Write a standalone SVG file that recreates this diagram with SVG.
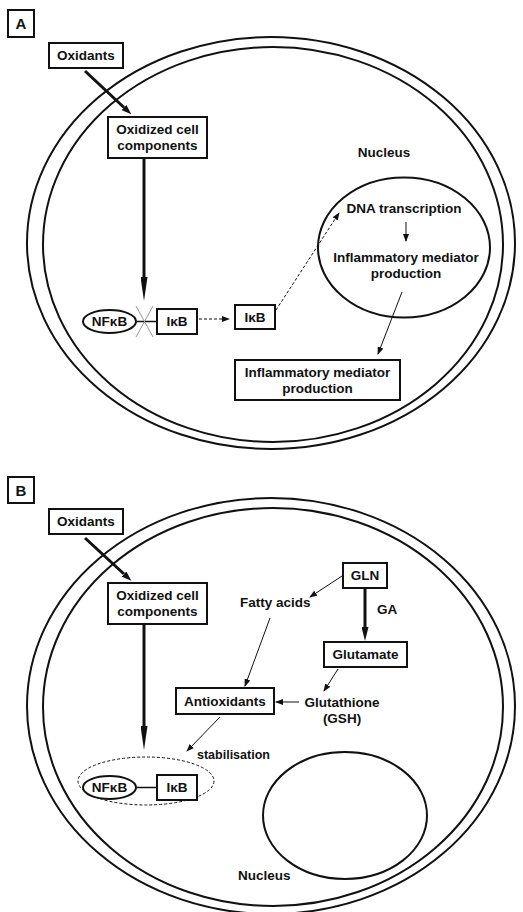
<svg xmlns="http://www.w3.org/2000/svg" width="523" height="912" viewBox="0 0 523 912">
<style>
text{font-family:"Liberation Sans",Arial,sans-serif;font-weight:bold;font-size:13.5px;fill:#111}
.box{fill:#fff;stroke:#111;stroke-width:2}
.cell{fill:none;stroke:#111;stroke-width:2}
.thin{stroke:#111;stroke-width:1;fill:none}
.dash{stroke:#111;stroke-width:1;fill:none;stroke-dasharray:3,2}
.thick{stroke:#111;stroke-width:3;fill:none}
.lbl{font-size:15px}
.sm{font-size:12.5px}
</style>
<defs>
<marker id="ah" markerUnits="userSpaceOnUse" markerWidth="8" markerHeight="6" refX="7" refY="3" orient="auto"><path d="M0,0 L8,3 L0,6 z" fill="#111"/></marker>
<marker id="big" markerUnits="userSpaceOnUse" markerWidth="24" markerHeight="7" refX="0" refY="3.5" orient="auto"><path d="M0,0 L24,3.5 L0,7 z" fill="#111"/></marker>
<marker id="med" markerUnits="userSpaceOnUse" markerWidth="10" markerHeight="7" refX="0" refY="3.5" orient="auto"><path d="M0,0 L10,3.5 L0,7 z" fill="#111"/></marker>
<marker id="mid" markerUnits="userSpaceOnUse" markerWidth="14" markerHeight="7" refX="0" refY="3.5" orient="auto"><path d="M0,0 L14,3.5 L0,7 z" fill="#111"/></marker>
</defs>

<!-- Panel A -->
<g id="cellA">
<ellipse class="cell" cx="271" cy="243" rx="244" ry="206"/>
<ellipse class="cell" cx="273" cy="244.5" rx="230" ry="197.5"/>
</g>
<g id="labelA"><rect class="box" x="8" y="10" width="26" height="27"/><text class="lbl" x="21" y="29" text-anchor="middle">A</text></g>
<g id="nucleusA">
<ellipse class="cell" cx="404" cy="247.5" rx="86" ry="70"/>
<text x="384" y="157" text-anchor="middle">Nucleus</text>
</g>
<g id="a-oxidants"><rect class="box" x="49" y="43" width="74" height="25"/><text x="86" y="60" text-anchor="middle">Oxidants</text></g>
<g id="a-oxidized"><rect class="box" x="108" y="117" width="99" height="41"/><text x="157.5" y="134" text-anchor="middle">Oxidized cell</text><text x="157.5" y="150" text-anchor="middle">components</text></g>
<g id="a-nfkb"><ellipse cx="109.5" cy="321.5" rx="26.5" ry="11.5" fill="#fff" stroke="#111" stroke-width="2"/><text x="109.5" y="326" text-anchor="middle">NFκB</text></g>
<g id="a-ikb1"><rect class="box" x="157" y="309" width="40" height="25"/><text x="177" y="326" text-anchor="middle">IκB</text></g>
<g id="a-ikb2"><rect class="box" x="235" y="305" width="40" height="24"/><text x="255" y="322" text-anchor="middle">IκB</text></g>
<g id="a-dna"><text x="404" y="213" text-anchor="middle">DNA transcription</text></g>
<g id="a-inflam-nuc"><text x="406" y="262" text-anchor="middle">Inflammatory mediator</text><text x="406" y="278" text-anchor="middle">production</text></g>
<g id="a-inflam-box"><rect class="box" x="235" y="360" width="165" height="40"/><text x="317.5" y="377" text-anchor="middle">Inflammatory mediator</text><text x="317.5" y="393" text-anchor="middle">production</text></g>

<!-- Panel B -->
<g id="cellB">
<ellipse class="cell" cx="271" cy="706" rx="244" ry="208"/>
<ellipse class="cell" cx="273" cy="707" rx="230" ry="199"/>
</g>
<g id="labelB"><rect class="box" x="8" y="477" width="26" height="26"/><text class="lbl" x="21" y="495.5" text-anchor="middle">B</text></g>
<g id="nucleusB">
<ellipse class="cell" cx="345" cy="815.5" rx="82" ry="63.5"/>
<text x="238" y="880">Nucleus</text>
</g>
<g id="b-oxidants"><rect class="box" x="49" y="509" width="74" height="25"/><text x="86" y="526" text-anchor="middle">Oxidants</text></g>
<g id="b-oxidized"><rect class="box" x="108" y="583" width="99" height="41"/><text x="157.5" y="600" text-anchor="middle">Oxidized cell</text><text x="157.5" y="616" text-anchor="middle">components</text></g>
<g id="b-complex"><ellipse cx="146" cy="781" rx="68" ry="24" fill="none" stroke="#111" stroke-width="1" stroke-dasharray="3,2"/></g>
<g id="b-nfkb"><ellipse cx="109.5" cy="787.5" rx="26.5" ry="11.5" fill="#fff" stroke="#111" stroke-width="2"/><text x="109.5" y="792" text-anchor="middle">NFκB</text></g>
<g id="b-ikb"><rect class="box" x="157" y="775" width="40" height="25"/><text x="177" y="792" text-anchor="middle">IκB</text></g>
<g id="b-gln"><rect class="box" x="343" y="563" width="44" height="25"/><text x="365" y="580" text-anchor="middle">GLN</text></g>
<g id="b-glutamate"><rect class="box" x="324" y="642" width="83" height="25"/><text x="365.5" y="659" text-anchor="middle">Glutamate</text></g>
<g id="b-antiox"><rect class="box" x="176" y="688" width="98" height="26"/><text x="225" y="706" text-anchor="middle">Antioxidants</text></g>
<g id="b-fatty"><text x="240" y="607">Fatty acids</text></g>
<g id="b-gsh"><text x="342" y="707" text-anchor="middle">Glutathione</text><text x="342" y="723" text-anchor="middle">(GSH)</text></g>
<g id="b-ga"><text x="377" y="614">GA</text></g>
<g id="b-stab"><text class="sm" x="197" y="759">stabilisation</text></g>

<g id="connectors">
<!-- A -->
<line class="thick" x1="85" y1="71" x2="124" y2="107.5" marker-end="url(#med)"/>
<line class="thick" x1="144" y1="158" x2="144" y2="277" marker-end="url(#big)"/>
<line x1="136" y1="321.5" x2="157" y2="321.5" stroke="#111" stroke-width="1.5"/>
<line x1="136" y1="306" x2="153" y2="337" stroke="#999" stroke-width="1"/>
<line x1="153" y1="306" x2="136" y2="337" stroke="#999" stroke-width="1"/>
<line class="dash" x1="199" y1="319" x2="229" y2="319" marker-end="url(#ah)"/>
<line class="dash" x1="276" y1="310" x2="339" y2="213" marker-end="url(#ah)"/>
<line class="thin" x1="406" y1="222" x2="406" y2="241" marker-end="url(#ah)"/>
<line class="thin" x1="402" y1="292" x2="378" y2="354" marker-end="url(#ah)"/>
<!-- B -->
<line class="thick" x1="85" y1="538" x2="124" y2="574" marker-end="url(#med)"/>
<line class="thick" x1="144" y1="624" x2="144" y2="726" marker-end="url(#big)"/>
<line x1="136" y1="787.5" x2="157" y2="787.5" stroke="#111" stroke-width="1.5"/>
<line class="thick" x1="365" y1="588" x2="365" y2="627" marker-end="url(#mid)"/>
<line class="thin" x1="342" y1="576" x2="310" y2="597" marker-end="url(#ah)"/>
<line class="thin" x1="270" y1="618" x2="245" y2="686" marker-end="url(#ah)"/>
<line class="thin" x1="338" y1="669" x2="324" y2="691" marker-end="url(#ah)"/>
<line class="thin" x1="299" y1="702" x2="276" y2="702" marker-end="url(#ah)"/>
<line class="thin" x1="220" y1="717" x2="187" y2="751" marker-end="url(#ah)"/>
</g>
</svg>
